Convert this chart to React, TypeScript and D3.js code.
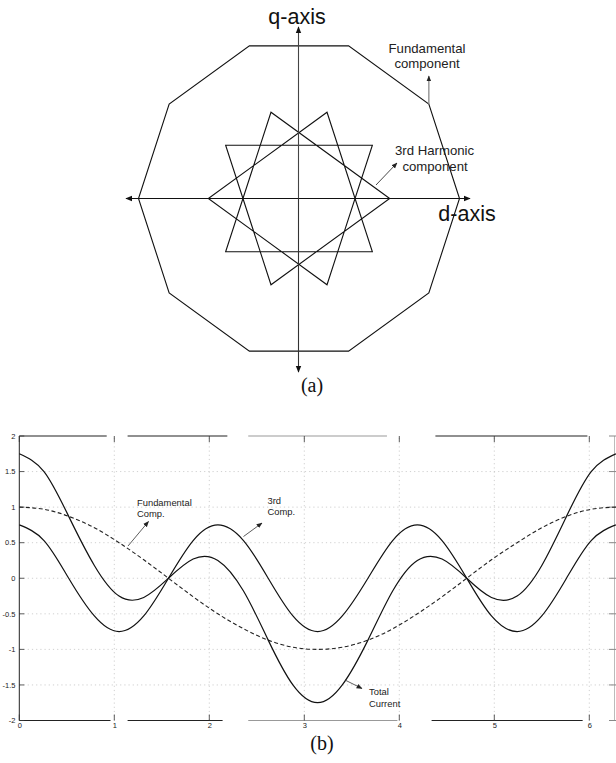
import React from "react";
import * as d3 from "d3";

// ---- (a) space-vector trajectories ----
// vertex phase angles (degrees, counter-clockwise from d-axis)
const fundamentalPhases = [0, 36, 72, 108, 144, 180, 216, 252, 288, 324];
// third harmonic visits every third vertex of the same set
const thirdPhases = [0, 108, 216, 324, 72, 180, 288, 36, 144, 252];
const fundamentalMag = 1.0;
const thirdMag = 0.565;

// ---- (b) phase current waveforms over one period ----
const theta = [
  0, 0.26, 0.52, 0.79, 1.05, 1.31, 1.57, 1.83, 2.09, 2.36, 2.62, 2.88, 3.14,
  3.4, 3.67, 3.93, 4.19, 4.45, 4.71, 4.97, 5.24, 5.5, 5.76, 6.02, 6.28,
];
const fundamentalComp = [
  1, 0.97, 0.87, 0.71, 0.5, 0.26, 0, -0.26, -0.5, -0.71, -0.87, -0.97, -1,
  -0.97, -0.87, -0.71, -0.5, -0.26, 0, 0.26, 0.5, 0.71, 0.87, 0.97, 1,
];
const thirdComp = [
  0.75, 0.53, 0, -0.53, -0.75, -0.53, 0, 0.53, 0.75, 0.53, 0, -0.53, -0.75,
  -0.53, 0, 0.53, 0.75, 0.53, 0, -0.53, -0.75, -0.53, 0, 0.53, 0.75,
];
const totalCurrent = [
  1.75, 1.5, 0.87, 0.18, -0.25, -0.27, 0, 0.27, 0.25, -0.18, -0.87, -1.5, -1.75,
  -1.5, -0.87, -0.18, 0.25, 0.27, 0, -0.27, -0.25, 0.18, 0.87, 1.5, 1.75,
];
const yTicks = [-2, -1.5, -1, -0.5, 0, 0.5, 1, 1.5, 2];
const yTickLabels = ["-2", "-1.5", "-1", "-0.5", "0", "0.5", "1", "1.5", "2"];
const xTicks = [0, 1, 2, 3, 4, 5, 6];
const xTickLabels = ["0", "1", "2", "3", "4", "5", "6"];
// worn pieces of the plot frame (x-range in data units, shade)
const topFrame: [number, number, string][] = [
  [0, 0.92, "#222"], [1.14, 2.19, "#222"], [2.41, 3.87, "#999"], [4.38, 5.98, "#222"],
];
const bottomFrame: [number, number, string][] = [
  [0, 0.96, "#222"], [1.14, 2.14, "#222"], [2.41, 3.98, "#999"], [4.34, 5.93, "#222"],
];

const W = 616;
const H = 763;
const SANS = "Liberation Sans, Arial, sans-serif";
const SERIF = "Liberation Serif, Times New Roman, serif";

export default function App() {
  // (a) geometry
  const cx = 299;
  const cy = 198.5;
  const r = d3.scaleLinear().domain([0, 1]).range([0, 160.5]);
  const toRad = (deg: number) => ((90 - deg) * Math.PI) / 180;
  const radial = (mag: number) =>
    d3
      .lineRadial<number>()
      .angle((d) => toRad(d))
      .radius(() => r(mag))
      .curve(d3.curveLinearClosed);
  const decagonPath = radial(fundamentalMag)(fundamentalPhases) || "";
  const starPath = radial(thirdMag)(thirdPhases) || "";
  const v36x = cx + r(fundamentalMag) * Math.cos((36 * Math.PI) / 180);
  const v36y = cy - r(fundamentalMag) * Math.sin((36 * Math.PI) / 180);

  // (b) scales
  const x = d3.scaleLinear().domain([0, 2 * Math.PI]).range([19.3, 616.2]);
  const y = d3.scaleLinear().domain([-2, 2]).range([720.5, 436]);
  const line = (vals: number[]) =>
    d3
      .line<number>()
      .x((_, i) => x(theta[i]))
      .y((d) => y(d))
      .curve(d3.curveNatural)(vals) || "";

  const arrow = (id: string, color: string, size = 6) => (
    <marker
      id={id}
      viewBox="0 0 10 10"
      refX="9"
      refY="5"
      markerWidth={size}
      markerHeight={size}
      markerUnits="userSpaceOnUse"
      orient="auto"
    >
      <path d="M0,1 L10,5 L0,9 Z" fill={color} />
    </marker>
  );

  return (
    <svg
      width={W}
      height={H}
      style={{ position: "absolute", left: 0, top: 0, background: "#fff" }}
    >
      <defs>
        {arrow("ah", "#111", 7)}
        {arrow("ahs", "#222", 6)}
      </defs>

      {/* ---------- (a) ---------- */}
      <g transform={`translate(${cx},${cy})`}>
        <path d={decagonPath} fill="none" stroke="#111" strokeWidth={1.1} />
        <path d={starPath} fill="none" stroke="#111" strokeWidth={1.1} />
      </g>
      {/* d-axis */}
      <line x1={cx} y1={cy} x2={470} y2={cy} stroke="#111" strokeWidth={1.1} markerEnd="url(#ah)" />
      <line x1={cx} y1={cy} x2={126} y2={cy} stroke="#111" strokeWidth={1.1} markerEnd="url(#ah)" />
      {/* q-axis */}
      <line x1={298.5} y1={cy} x2={298.5} y2={27} stroke="#444" strokeWidth={1.1} markerEnd="url(#ah)" />
      <line x1={298.5} y1={cy} x2={298.5} y2={372} stroke="#333" strokeWidth={1.1} markerEnd="url(#ah)" />

      <text x={297} y={23.5} fontFamily={SANS} fontSize={21.5} textAnchor="middle" fill="#111">
        q-axis
      </text>
      <text x={467} y={220.5} fontFamily={SANS} fontSize={21.5} textAnchor="middle" fill="#111">
        d-axis
      </text>

      <line x1={v36x} y1={v36y} x2={v36x} y2={76} stroke="#888" strokeWidth={1.3} markerEnd="url(#ahs)" />
      <text fontFamily={SANS} fontSize={13.2} textAnchor="middle" fill="#222">
        <tspan x={427} y={52.5}>Fundamental</tspan>
        <tspan x={427} y={68}>component</tspan>
      </text>

      <line x1={376} y1={185} x2={397} y2={163} stroke="#333" strokeWidth={0.9} markerEnd="url(#ahs)" />
      <text fontFamily={SANS} fontSize={13.2} textAnchor="middle" fill="#222">
        <tspan x={434.5} y={154.5}>3rd Harmonic</tspan>
        <tspan x={435} y={170.5}>component</tspan>
      </text>

      <text x={312} y={392} fontFamily={SERIF} fontSize={20} textAnchor="middle" fill="#111">
        (a)
      </text>

      {/* ---------- (b) ---------- */}
      <g>
        {/* dotted grid */}
        {yTicks.slice(1, -1).map((t) => (
          <line
            key={`gy${t}`}
            x1={x(0)}
            x2={x(2 * Math.PI)}
            y1={y(t)}
            y2={y(t)}
            stroke="#c4c4c4"
            strokeWidth={0.8}
            strokeDasharray="1.2,3"
          />
        ))}
        {xTicks.slice(1).map((t) => (
          <line
            key={`gx${t}`}
            x1={x(t)}
            x2={x(t)}
            y1={y(-2)}
            y2={y(2)}
            stroke="#c4c4c4"
            strokeWidth={0.8}
            strokeDasharray="1.2,3"
          />
        ))}

        {/* frame */}
        <line x1={x(0)} x2={x(0)} y1={y(-2)} y2={y(2)} stroke="#222" strokeWidth={1} />
        <line x1={614.5} x2={614.5} y1={y(-2)} y2={y(2)} stroke="#bbb" strokeWidth={1} />
        {topFrame.map(([a, b, c], i) => (
          <line key={`tf${i}`} x1={x(a)} x2={x(b)} y1={y(2)} y2={y(2)} stroke={c} strokeWidth={1.2} />
        ))}
        {bottomFrame.map(([a, b, c], i) => (
          <line key={`bf${i}`} x1={x(a)} x2={x(b)} y1={y(-2)} y2={y(-2)} stroke={c} strokeWidth={1.2} />
        ))}

        {/* ticks */}
        {yTicks.map((t) => (
          <g key={`ty${t}`}>
            <line x1={x(0)} x2={x(0) + 5} y1={y(t)} y2={y(t)} stroke="#333" strokeWidth={0.8} />
            <line x1={609} x2={616} y1={y(t)} y2={y(t)} stroke="#888" strokeWidth={1} />
          </g>
        ))}
        {xTicks.map((t) => (
          <g key={`tx${t}`}>
            <line x1={x(t)} x2={x(t)} y1={y(-2)} y2={y(-2) - 6} stroke="#333" strokeWidth={0.8} />
            <line x1={x(t)} x2={x(t)} y1={y(2)} y2={y(2) + 6} stroke="#333" strokeWidth={0.8} />
          </g>
        ))}
        {yTicks.map((t, i) => (
          <text
            key={`ly${t}`}
            x={15.5}
            y={y(t) + 2.8}
            fontFamily={SANS}
            fontSize={7.5}
            textAnchor="end"
            fill="#222"
          >
            {yTickLabels[i]}
          </text>
        ))}
        {xTicks.map((t, i) => (
          <text
            key={`lx${t}`}
            x={x(t) + 0.5}
            y={728}
            fontFamily={SANS}
            fontSize={7.5}
            textAnchor="middle"
            fill="#222"
          >
            {xTickLabels[i]}
          </text>
        ))}

        {/* curves */}
        <path
          d={line(fundamentalComp)}
          fill="none"
          stroke="#222"
          strokeWidth={1.1}
          strokeDasharray="4,2.5"
        />
        <path d={line(thirdComp)} fill="none" stroke="#111" strokeWidth={1.2} />
        <path d={line(totalCurrent)} fill="none" stroke="#111" strokeWidth={1.2} />

        {/* annotations */}
        <line x1={128} y1={546} x2={148.5} y2={521.5} stroke="#333" strokeWidth={0.8} markerEnd="url(#ahs)" />
        <text fontFamily={SANS} fontSize={9.4} fill="#222">
          <tspan x={137} y={506}>Fundamental</tspan>
          <tspan x={137} y={517}>Comp.</tspan>
        </text>

        <line x1={243.5} y1={536.5} x2={262} y2={523} stroke="#333" strokeWidth={0.8} markerEnd="url(#ahs)" />
        <text fontFamily={SANS} fontSize={9.4} fill="#222">
          <tspan x={267.5} y={503.5}>3rd</tspan>
          <tspan x={267.5} y={515}>Comp.</tspan>
        </text>

        <line x1={345} y1={680} x2={362} y2={688.5} stroke="#333" strokeWidth={0.8} markerEnd="url(#ahs)" />
        <text fontFamily={SANS} fontSize={9.4} fill="#222">
          <tspan x={369} y={694.5}>Total</tspan>
          <tspan x={369} y={706.5}>Current</tspan>
        </text>
      </g>

      <text x={322} y={750} fontFamily={SERIF} fontSize={20} textAnchor="middle" fill="#111">
        (b)
      </text>
    </svg>
  );
}
